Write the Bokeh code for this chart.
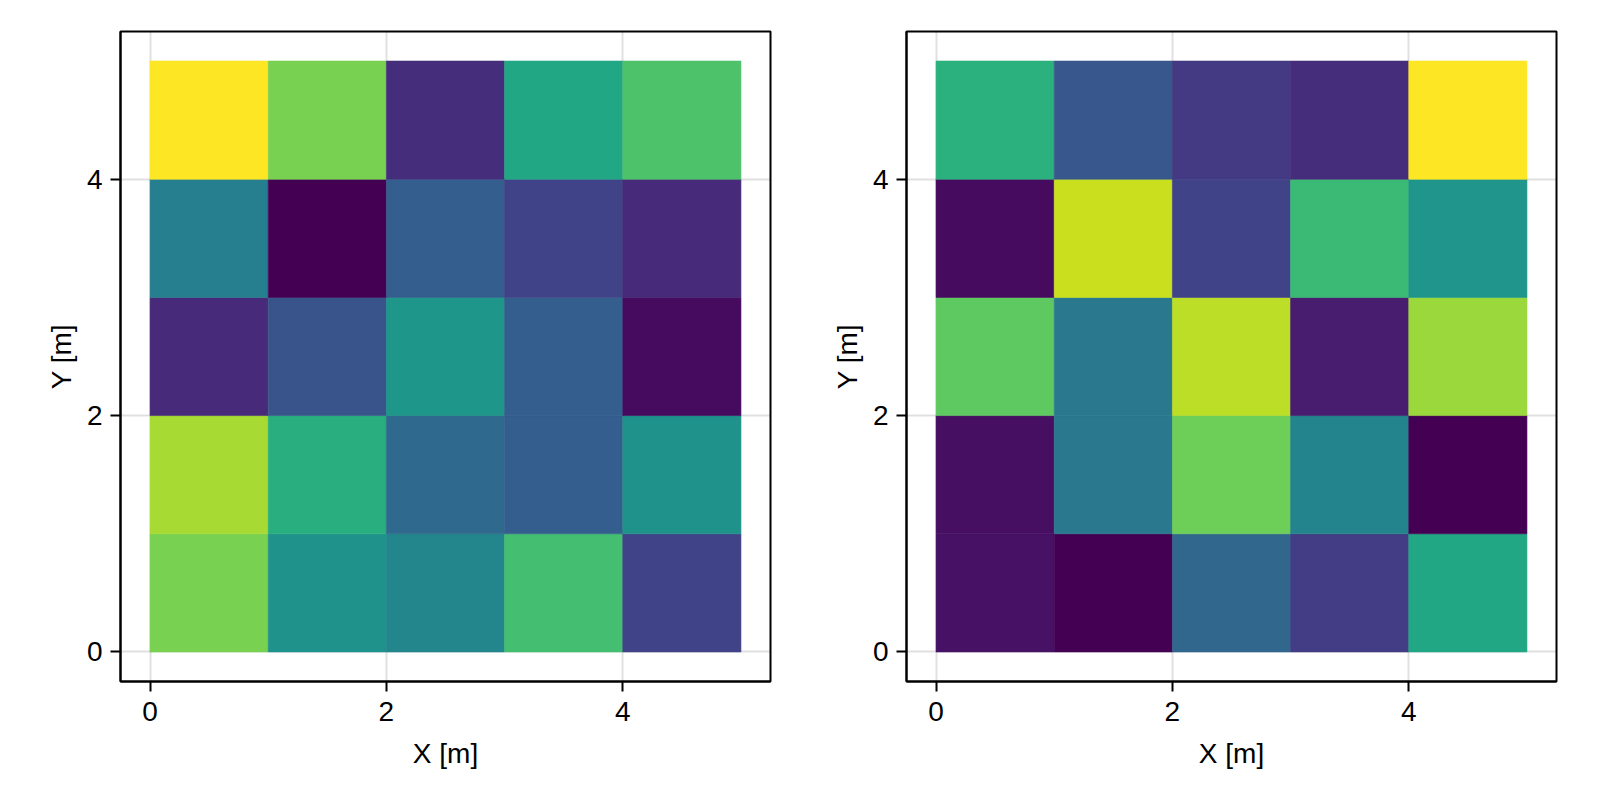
from bokeh.plotting import figure
from bokeh.layouts import row
from bokeh.models import LinearColorMapper, ColumnDataSource, FixedTicker, Range1d
from bokeh.palettes import Viridis256
from bokeh.embed import file_html
from bokeh.resources import INLINE

# cell values, rows listed from y=0 (bottom) to y=4 (top), columns x=0..4
left_values = [
    [0.80, 0.51, 0.46, 0.70, 0.20],
    [0.87, 0.63, 0.34, 0.30, 0.51],
    [0.12, 0.26, 0.53, 0.30, 0.03],
    [0.43, 0.00, 0.30, 0.20, 0.12],
    [1.00, 0.80, 0.13, 0.60, 0.72],
]
right_values = [
    [0.05, 0.00, 0.33, 0.18, 0.60],
    [0.04, 0.40, 0.78, 0.45, 0.00],
    [0.75, 0.40, 0.90, 0.08, 0.85],
    [0.03, 0.92, 0.20, 0.68, 0.52],
    [0.64, 0.27, 0.17, 0.13, 1.00],
]
tick_values = [0, 2, 4]
x_label = "X [m]"
y_label = "Y [m]"

FONT = "Liberation Sans"


def make_panel(values, border_left, border_right):
    xs0, xs1, ys0, ys1, zs = [], [], [], [], []
    for j, r in enumerate(values):
        for i, v in enumerate(r):
            xs0.append(i)
            xs1.append(i + 1)
            ys0.append(j)
            ys1.append(j + 1)
            zs.append(v)
    src = ColumnDataSource(dict(left=xs0, right=xs1, bottom=ys0, top=ys1, z=zs))
    mapper = LinearColorMapper(palette=Viridis256, low=0, high=1)
    p = figure(
        frame_width=650, frame_height=650,
        x_range=Range1d(-0.25, 5.25), y_range=Range1d(-0.25, 5.25),
        min_border_left=border_left, min_border_right=border_right,
        min_border_top=31, min_border_bottom=119,
        output_backend="svg", toolbar_location=None,
    )
    p.quad(left="left", right="right", bottom="bottom", top="top", source=src,
           fill_color={"field": "z", "transform": mapper},
           line_color={"field": "z", "transform": mapper}, line_width=0.6)
    p.outline_line_color = "black"
    p.outline_line_width = 2
    p.outline_line_alpha = 1
    for ax in (p.xaxis, p.yaxis):
        ax.ticker = FixedTicker(ticks=tick_values)
        ax.minor_tick_line_color = None
        ax.major_tick_out = 10
        ax.major_tick_in = 0
        ax.major_tick_line_width = 2
        ax.major_tick_line_color = "black"
        ax.axis_line_color = "black"
        ax.axis_line_width = 2
        ax.major_label_text_font = FONT
        ax.major_label_text_font_size = "28px"
        ax.major_label_text_color = "black"
        ax.axis_label_text_font = FONT
        ax.axis_label_text_font_size = "28px"
        ax.axis_label_text_font_style = "normal"
        ax.axis_label_text_color = "black"
    p.xaxis.axis_label = x_label
    p.yaxis.axis_label = y_label
    p.xaxis.major_label_standoff = 10
    p.yaxis.major_label_standoff = 8
    p.xaxis.axis_label_standoff = 14
    p.yaxis.axis_label_standoff = 7
    p.grid.grid_line_color = "black"
    p.grid.grid_line_alpha = 0.12
    p.grid.grid_line_width = 2
    p.background_fill_color = "white"
    p.border_fill_color = "white"
    return p


p1 = make_panel(left_values, 120, 30)
p2 = make_panel(right_values, 106, 44)
layout = row(p1, p2)

open("out.html", "w").write(file_html(layout, INLINE))
